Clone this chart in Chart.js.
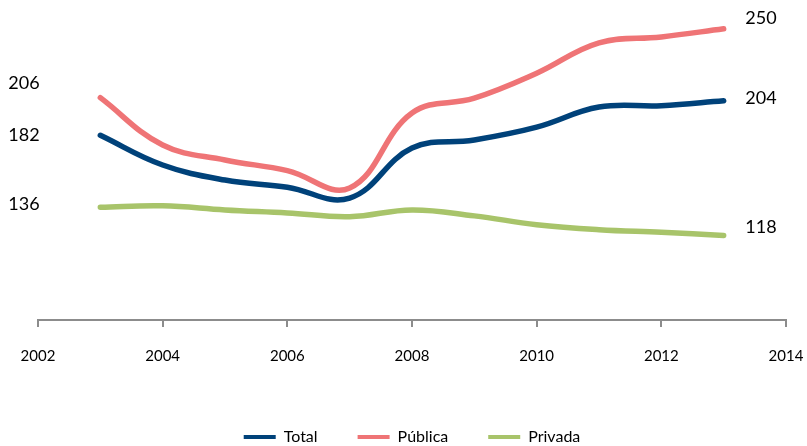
<!DOCTYPE html>
<html>
<head>
<meta charset="utf-8">
<script src="https://cdn.jsdelivr.net/npm/chart.js@4.4.1/dist/chart.umd.min.js"></script>
<style>
  html, body { margin: 0; padding: 0; background: #fff; }
  #wrap { width: 807px; height: 446px; }
</style>
</head>
<body>
<div id="wrap"><canvas id="c" width="807" height="446"></canvas></div>
<script>
const years = [2003, 2004, 2005, 2006, 2007, 2008, 2009, 2010, 2011, 2012, 2013];
const totalValues   = [182, 163, 153.4, 148.8, 141.9, 173.8, 179, 187.2, 200, 200.9, 204];
const publicaValues = [206, 175.8, 166.2, 159.4, 148.3, 196.2, 205.7, 221.6, 241, 244.8, 250];
const privadaValues = [136, 136.9, 134.3, 132.4, 130, 134.3, 130.5, 124.9, 121.7, 120, 118];
const seriesNames = ['Total', 'Pública', 'Privada'];
const xTickMin = 2002, xTickMax = 2014, xTickStep = 2;

const colors = ['#00427A', '#EF7476', '#A8C46A'];
const FONT = 'Lato, "Liberation Sans", sans-serif';

function pts(vals) { return years.map((y, i) => ({ x: y, y: vals[i] })); }
const allSeries = [totalValues, publicaValues, privadaValues];

// label offsets (pixels) for start/end value labels: [startOffset, endOffset]
const labelOffsets = [[0, -3], [-14, -11], [-3, -8]];

const endLabels = {
  id: 'endLabels',
  afterDatasetsDraw(chart) {
    const { ctx, scales: { x, y } } = chart;
    ctx.save();
    ctx.font = '18px ' + FONT;
    ctx.fillStyle = '#000';
    ctx.textAlign = 'center';
    ctx.textBaseline = 'middle';
    allSeries.forEach((vals, i) => {
      const first = vals[0], last = vals[vals.length - 1];
      ctx.fillText(String(Math.round(first)), x.getPixelForValue(xTickMin) - 14, y.getPixelForValue(first) + labelOffsets[i][0]);
      ctx.fillText(String(Math.round(last)), x.getPixelForValue(xTickMax) - 25, y.getPixelForValue(last) + labelOffsets[i][1]);
    });
    ctx.restore();
  }
};

new Chart(document.getElementById('c'), {
  type: 'line',
  data: {
    datasets: allSeries.map((vals, i) => ({
      label: seriesNames[i],
      data: pts(vals),
      borderColor: colors[i],
      backgroundColor: colors[i],
      borderWidth: 5.5,
      borderCapStyle: 'round',
      borderJoinStyle: 'round',
      pointRadius: 0,
      tension: 0.4,
      fill: false,
      clip: false
    }))
  },
  options: {
    responsive: false,
    animation: false,
    layout: { padding: { left: 38, right: 21, top: 10, bottom: -9 } },
    plugins: {
      tooltip: { enabled: false },
      legend: {
        position: 'bottom',
        labels: {
          boxWidth: 32,
          boxHeight: 4,
          padding: 40,
          color: '#000',
          font: { family: FONT, size: 16 },
          generateLabels(chart) {
            const items = Chart.defaults.plugins.legend.labels.generateLabels(chart);
            items.forEach(it => { it.lineWidth = 0; it.fillStyle = it.strokeStyle; });
            return items;
          }
        }
      }
    },
    scales: {
      x: {
        type: 'linear',
        min: xTickMin,
        max: xTickMax,
        afterFit(scale) { scale.height = 69; scale.paddingLeft = 0; scale.paddingRight = 0; },
        ticks: {
          stepSize: xTickStep,
          padding: 20,
          color: '#000',
          font: { family: FONT, size: 15 },
          maxRotation: 0,
          callback: v => String(v)
        },
        grid: {
          display: true,
          drawOnChartArea: false,
          drawTicks: true,
          tickLength: 7,
          color: '#8C8C8C',
          lineWidth: 2
        },
        border: { display: true, color: '#8C8C8C', width: 2 }
      },
      y: {
        display: false,
        min: 64,
        max: 262
      }
    }
  },
  plugins: [endLabels]
});
</script>
</body>
</html>
